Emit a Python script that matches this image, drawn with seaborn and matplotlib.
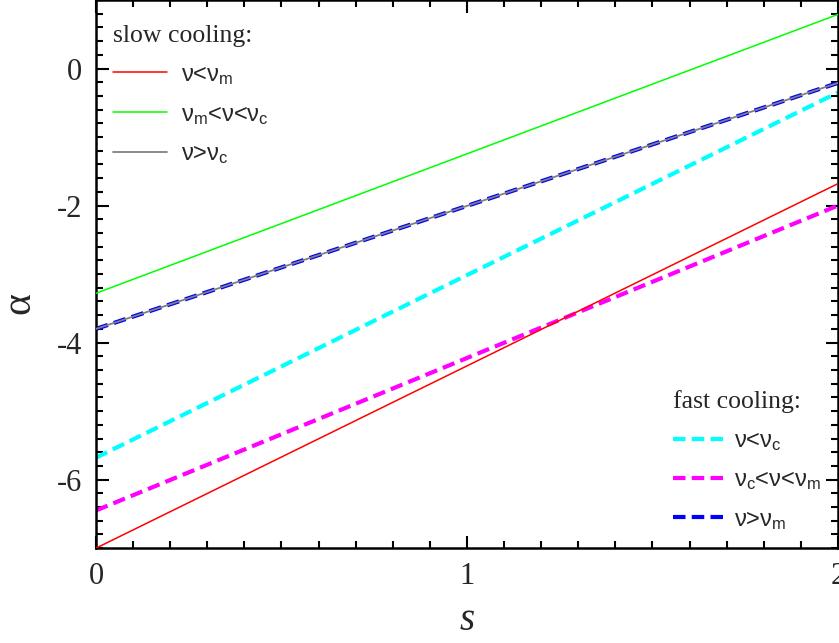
import numpy as np
import pandas as pd
import matplotlib.pyplot as plt
import seaborn as sns
from matplotlib.lines import Line2D
from matplotlib.ticker import MultipleLocator

# spectral index alpha vs electron index s (straight lines, endpoints)
s = [0, 2]
slow_below_m = [-7.0, -1.68]      # nu < nu_m
slow_m_to_c = [-3.28, 0.79]       # nu_m < nu < nu_c
slow_above_c = [-3.80, -0.21]     # nu > nu_c
fast_below_c = [-5.68, -0.35]     # nu < nu_c
fast_c_to_m = [-6.45, -2.0]       # nu_c < nu < nu_m
fast_above_m = [-3.80, -0.21]     # nu > nu_m

sns.set_style("ticks")
plt.rcParams['font.family'] = ['Liberation Serif', 'DejaVu Serif']
plt.rcParams['mathtext.default'] = 'regular'
plt.rcParams['axes.unicode_minus'] = False

fig = plt.figure(figsize=(8.39, 6.43), dpi=100)
ax = fig.add_axes([0.1144, 0.1475, 0.8844, 0.8525])

dash = (3.0, 1.5)
sns.lineplot(x=s, y=fast_below_c, ax=ax, color='#00FFFF', lw=3, zorder=2).lines[-1].set_dashes(dash)
sns.lineplot(x=s, y=fast_c_to_m, ax=ax, color='#FF00FF', lw=3, zorder=2).lines[-1].set_dashes(dash)
sns.lineplot(x=s, y=fast_above_m, ax=ax, color='#0000FF', lw=3, zorder=2).lines[-1].set_dashes(dash)
sns.lineplot(x=s, y=slow_below_m, ax=ax, color='#FF0000', lw=1.1, zorder=3)
sns.lineplot(x=s, y=slow_m_to_c, ax=ax, color='#00FF00', lw=1.1, zorder=3)
sns.lineplot(x=s, y=slow_above_c, ax=ax, color='#808080', lw=1.3, zorder=3)

ax.set_xlim(0, 2)
ax.set_ylim(-7, 1)
ax.xaxis.set_major_locator(MultipleLocator(1))
ax.xaxis.set_minor_locator(MultipleLocator(0.1))
ax.yaxis.set_major_locator(MultipleLocator(2))
ax.yaxis.set_minor_locator(MultipleLocator(0.2))
ax.tick_params(which='both', direction='in', top=True, right=True, width=1.5, color='black')
ax.tick_params(which='major', length=9, labelsize=22, pad=10)
ax.tick_params(which='minor', length=5)
for sp in ax.spines.values():
    sp.set_linewidth(1.8)
    sp.set_color('black')

ax.set_xlabel('s', fontsize=28, style='italic', labelpad=8)
ax.set_ylabel('α', fontsize=30)
ax.yaxis.set_label_coords(-0.078, 0.447)

entry_font = {'family': 'Liberation Sans', 'size': 17}

slow_handles = [
    Line2D([], [], color='#FF0000', lw=1.1),
    Line2D([], [], color='#00FF00', lw=1.1),
    Line2D([], [], color='#808080', lw=1.3),
]
slow_labels = ['ν<ν$_{m}$', 'ν$_{m}$<ν<ν$_{c}$', 'ν>ν$_{c}$']
leg1 = ax.legend(slow_handles, slow_labels, title='slow cooling:', loc='upper left',
                 bbox_to_anchor=(0.0, 0.985), frameon=False, prop=entry_font,
                 handlelength=2.3, labelspacing=0.72, handletextpad=0.6, borderaxespad=0.3)
leg1.get_title().set_fontsize(18.5)
leg1._legend_box.align = 'left'
ax.add_artist(leg1)

fast_handles = [
    Line2D([], [], color='#00FFFF', lw=3, dashes=dash),
    Line2D([], [], color='#FF00FF', lw=3, dashes=dash),
    Line2D([], [], color='#0000FF', lw=3, dashes=dash),
]
fast_labels = ['ν<ν$_{c}$', 'ν$_{c}$<ν<ν$_{m}$', 'ν>ν$_{m}$']
leg2 = ax.legend(fast_handles, fast_labels, title='fast cooling:', loc='lower right',
                 bbox_to_anchor=(1.0, 0.0), frameon=False, prop=entry_font,
                 handlelength=2.3, labelspacing=0.7, handletextpad=0.3, borderaxespad=0.3)
leg2.get_title().set_fontsize(18.5)
leg2._legend_box.align = 'left'

fig.savefig('out.png', dpi=100)
